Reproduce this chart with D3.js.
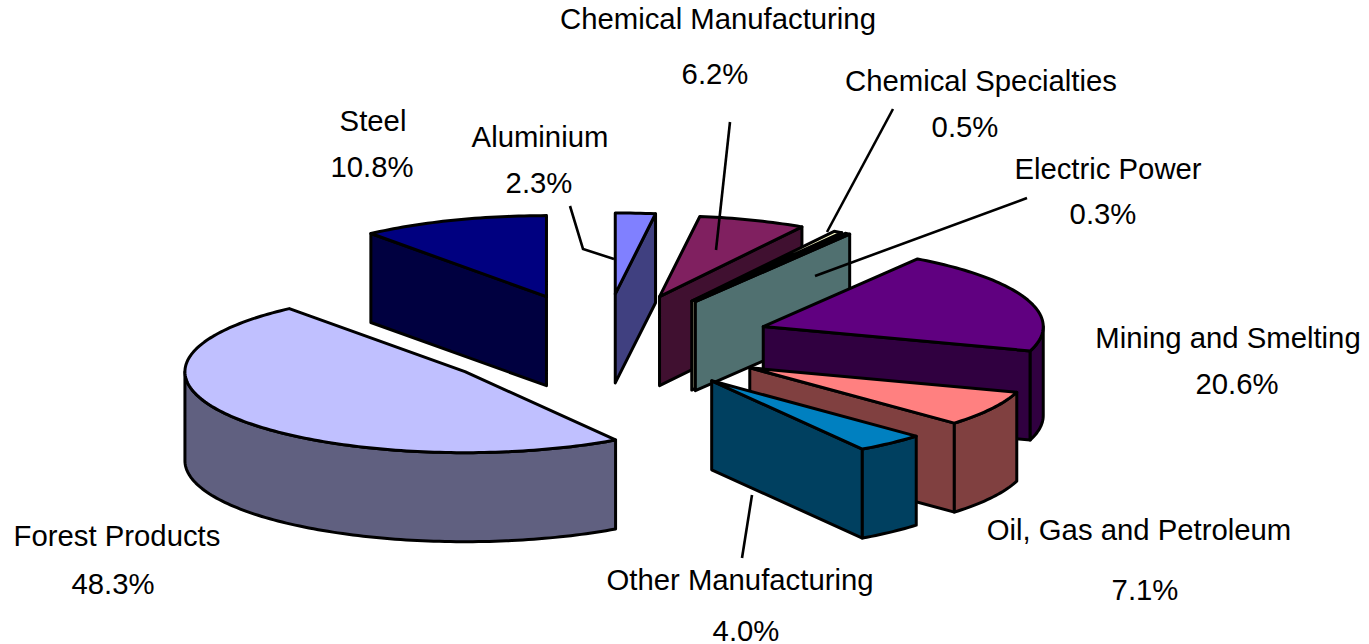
<!DOCTYPE html>
<html>
<head>
<meta charset="utf-8">
<script src="https://cdn.jsdelivr.net/npm/d3@7"></script>
<style>
  html, body { margin: 0; padding: 0; background: #fff; overflow: hidden; }
  text { font-family: "Liberation Sans", Arial, sans-serif; font-size: 29.3px; fill: #000; text-anchor: middle; }
</style>
</head>
<body>
<svg id="chart" width="1369" height="644"></svg>
<script>
// values as printed on the chart, clockwise from 12 o'clock
const categories = ["Aluminium", "Chemical Manufacturing", "Chemical Specialties", "Electric Power",
	"Mining and Smelting", "Oil, Gas and Petroleum", "Other Manufacturing", "Forest Products", "Steel"];
const shares = [2.3, 6.2, 0.5, 0.3, 20.6, 7.1, 4.0, 48.3, 10.8];
const topColors = ["#8080ff", "#802060", "#ffffcc", "#a0e0e0", "#600080", "#ff8080", "#0080c0", "#c0c0ff", "#000080"];
const wallColors = ["#404080", "#401030", "#808066", "#507070", "#300040", "#804040", "#004060", "#606080", "#000040"];

// pie geometry
const cx = 603, cy = 343;
const rx = 280, ry = 81;
const depth = 89;
const explode = 170;

// label anchors: [name x, name y, value x, value y]
const labelPos = [
	[540, 147, 539, 193],
	[718, 29, 715, 84],
	[981, 91, 965, 137],
	[1108, 179, 1103, 224],
	[1228, 348, 1237, 394],
	[1139, 540, 1145, 600],
	[740, 590, 746, 641],
	[117, 546, 113, 594],
	[373, 131, 372, 177]
];

// leader lines
const leaders = [
	[[570, 206], [583, 249], [614, 259]],
	[[730, 122], [716, 250]],
	[[893, 109], [827, 232]],
	[[1027, 198], [815, 276]],
	[[752, 495], [742, 558]]
];

const svg = d3.select("#chart");
const pie = d3.pie().sort(null).value((d) => d)(shares);
const line = d3.line();

function on_ellipse(o, a, k) {
	return [o[0] + k * rx * Math.sin(a), o[1] - k * ry * Math.cos(a)];
}

function arc_points(o, a0, a1) {
	let n = Math.max(2, Math.ceil((a1 - a0) / 0.02));
	return d3.range(n + 1).map((i) => on_ellipse(o, a0 + (a1 - a0) * i / n, 1));
}

function drop(p) {
	return [p[0], p[1] + depth];
}

// a cut wall can be seen only if the top of the slice lies above its edge
function wall_visible(apex, rim, inner) {
	let dx = rim[0] - apex[0], dy = rim[1] - apex[1];
	if (Math.abs(dx) < 1) return false;
	return inner[1] < apex[1] + dy / dx * (inner[0] - apex[0]);
}

function draw_face(points, fill) {
	svg.append("path")
		.attr("d", line(points) + "Z")
		.attr("fill", fill)
		.attr("stroke", "#000")
		.attr("stroke-width", 3)
		.attr("stroke-linejoin", "round");
}

let slices = pie.map((d, i) => {
	let mid = (d.startAngle + d.endAngle) / 2;
	let apex = [cx + explode * Math.sin(mid), cy - explode * (ry / rx) * Math.cos(mid)];
	return { i, a0: d.startAngle, a1: d.endAngle, mid, apex };
});

// paint from back to front
slices.sort((a, b) => d3.descending(Math.cos(a.mid), Math.cos(b.mid)));

slices.forEach((s) => {
	let inner = on_ellipse(s.apex, s.mid, 0.7);
	[s.a0, s.a1].forEach((a) => {
		let rim = on_ellipse(s.apex, a, 1);
		if (wall_visible(s.apex, rim, inner)) {
			draw_face([s.apex, rim, drop(rim), drop(s.apex)], wallColors[s.i]);
		}
	});
	// outer skirt, only the near half of the ellipse shows
	let from = Math.max(s.a0, Math.PI / 2), to = Math.min(s.a1, 3 * Math.PI / 2);
	if (to > from) {
		let edge = arc_points(s.apex, from, to);
		draw_face(edge.concat(edge.map(drop).reverse()), wallColors[s.i]);
	}
	draw_face([s.apex].concat(arc_points(s.apex, s.a0, s.a1)), topColors[s.i]);
});

leaders.forEach((l) => {
	svg.append("path")
		.attr("d", line(l))
		.attr("fill", "none")
		.attr("stroke", "#000")
		.attr("stroke-width", 2.6);
});

categories.forEach((c, i) => {
	let p = labelPos[i];
	svg.append("text").attr("x", p[0]).attr("y", p[1]).text(c);
	svg.append("text").attr("x", p[2]).attr("y", p[3]).text(shares[i].toFixed(1) + "%");
});
</script>
</body>
</html>
